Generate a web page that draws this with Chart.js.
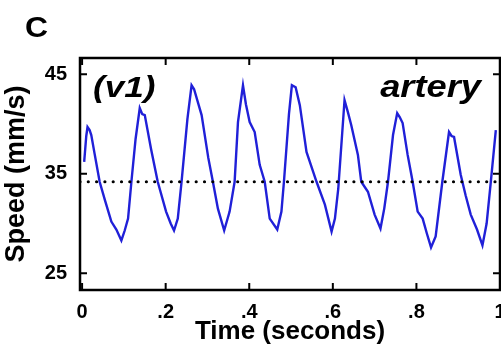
<!DOCTYPE html>
<html><head><meta charset="utf-8">
<script src="https://cdn.jsdelivr.net/npm/chart.js@4/dist/chart.umd.min.js"></script>
<style>html,body{margin:0;padding:0;background:#fff}canvas{display:block}</style>
</head><body>
<canvas id="c" width="501" height="357"></canvas>
<script>
// ---- data ----
const timeSec = [0.005,0.010,0.013,0.018,0.022,0.030,0.042,0.055,0.070,0.082,0.094,0.102,0.110,0.118,0.128,0.138,0.144,0.150,0.165,0.181,0.201,0.212,0.220,0.229,0.238,0.252,0.262,0.268,0.286,0.302,0.313,0.325,0.340,0.353,0.365,0.373,0.385,0.392,0.401,0.413,0.425,0.437,0.449,0.467,0.477,0.483,0.495,0.502,0.511,0.521,0.537,0.553,0.561,0.581,0.597,0.605,0.613,0.628,0.636,0.644,0.660,0.668,0.684,0.700,0.714,0.723,0.732,0.744,0.754,0.760,0.767,0.779,0.791,0.803,0.815,0.825,0.835,0.846,0.862,0.878,0.884,0.890,0.906,0.918,0.930,0.945,0.958,0.968,0.978,0.990];
const speed   = [36.2,38.8,39.7,39.4,38.9,37.0,34.2,32.3,30.2,29.4,28.3,29.3,30.5,34.2,38.5,41.6,41.0,40.9,37.5,34.2,31.2,30.0,29.3,30.5,34.2,40.5,43.9,43.5,40.9,36.6,34.2,31.5,29.3,31.2,34.2,40.2,43.9,42.0,40.2,39.2,35.9,34.2,30.5,29.4,31.2,34.2,41.0,43.9,43.7,41.9,37.2,35.2,34.2,31.9,29.2,30.5,33.5,42.4,41.2,39.9,36.9,34.2,33.2,30.9,29.5,31.5,34.2,38.9,41.1,40.7,40.1,36.9,34.2,31.2,30.5,29.0,27.6,28.7,34.2,39.2,38.8,38.7,34.9,32.8,30.9,29.4,27.8,30.0,34.2,39.4];
const meanTime  = [-0.005, 1.0];
const meanSpeed = [34.2, 34.2];
const xTicks = [0, 0.2, 0.4, 0.6, 0.8, 1];
const xTickLabels = ['0', '.2', '.4', '.6', '.8', '1'];
const yTicks = [25, 35, 45];
const yTickLabels = ['25', '35', '45'];
const panelLabel = 'C';
const cornerLeft = '(v1)';
const cornerRight = 'artery';
const xTitle = 'Time (seconds)';
const yTitle = 'Speed (mm/s)';

const FAM = '"Liberation Sans", Arial, Helvetica, sans-serif';
Chart.defaults.font.family = FAM;
Chart.defaults.color = '#000';

function stretchedText(ctx, txt, x, y, font, align, sx) {
  ctx.save();
  ctx.font = font;
  ctx.textBaseline = 'alphabetic';
  ctx.fillStyle = '#000';
  const w = ctx.measureText(txt).width * sx;
  const left = align === 'right' ? x - w : x;
  ctx.translate(left, y);
  ctx.scale(sx, 1);
  ctx.textAlign = 'left';
  ctx.fillText(txt, 0, 0);
  ctx.restore();
}

const framePlugin = {
  id: 'frame',
  afterDatasetsDraw(chart) {
    const {ctx, chartArea: a, scales: {x, y}} = chart;
    ctx.save();
    ctx.strokeStyle = '#000';
    ctx.lineWidth = 2.5;
    ctx.strokeRect(a.left, a.top, a.right - a.left, a.bottom - a.top);
    ctx.lineWidth = 2;
    ctx.beginPath();
    xTicks.forEach(v => {
      const px = x.getPixelForValue(v);
      ctx.moveTo(px, a.bottom); ctx.lineTo(px, a.bottom - 7);
      ctx.moveTo(px, a.top); ctx.lineTo(px, a.top + 7);
    });
    yTicks.forEach(v => {
      const py = y.getPixelForValue(v);
      ctx.moveTo(a.left, py); ctx.lineTo(a.left + 7, py);
      ctx.moveTo(a.right, py); ctx.lineTo(a.right - 7, py);
    });
    ctx.stroke();
    ctx.restore();
    stretchedText(ctx, cornerLeft, a.left + 13, a.top + 39, 'italic bold 30px ' + FAM, 'left', 1.17);
    stretchedText(ctx, cornerRight, a.right - 19, a.top + 39, 'italic bold 31px ' + FAM, 'right', 1.17);
    stretchedText(ctx, panelLabel, 25, 37, 'bold 29px ' + FAM, 'left', 1.1);
  }
};

new Chart(document.getElementById('c'), {
  type: 'line',
  data: {
    datasets: [
      {
        data: meanTime.map((t, i) => ({x: t, y: meanSpeed[i]})),
        borderColor: '#000',
        borderWidth: 3.2,
        borderDash: [0, 8.3],
        borderCapStyle: 'round',
        pointRadius: 0,
        fill: false,
        order: 0
      },
      {
        data: timeSec.map((t, i) => ({x: t, y: speed[i]})),
        borderColor: '#2020d8',
        borderWidth: 2.4,
        pointRadius: 0,
        tension: 0,
        fill: false,
        order: 1
      }
    ]
  },
  options: {
    responsive: false,
    devicePixelRatio: 1,
    animation: false,
    events: [],
    layout: {padding: {top: 58, right: 1, left: 0, bottom: 0}},
    plugins: {legend: {display: false}, tooltip: {enabled: false}},
    scales: {
      x: {
        type: 'linear',
        min: -0.005, max: 1,
        afterBuildTicks: s => { s.ticks = xTicks.map(v => ({value: v})); },
        afterFit: s => { s.height = 67; s.paddingLeft = 0; s.paddingRight = 0; },
        grid: {display: false, drawTicks: false},
        border: {display: false},
        ticks: {
          callback: (v, i) => xTickLabels[i],
          autoSkip: false, maxRotation: 0, padding: 10,
          font: {size: 20, weight: 'bold'}, color: '#000'
        },
        title: {display: true, text: xTitle, font: {size: 26, weight: 'bold'}, color: '#000', padding: {top: 0, bottom: 10}}
      },
      y: {
        type: 'linear',
        min: 23.32, max: 46.64,
        afterBuildTicks: s => { s.ticks = yTicks.map(v => ({value: v})); },
        afterFit: s => { s.width = 80; s.paddingTop = 0; s.paddingBottom = 0; },
        grid: {display: false, drawTicks: false},
        border: {display: false},
        ticks: {
          callback: (v, i) => yTickLabels[i],
          autoSkip: false, padding: 13,
          font: {size: 20, weight: 'bold'}, color: '#000'
        },
        title: {display: true, text: yTitle, font: {size: 27, weight: 'bold'}, color: '#000', padding: {top: 0, bottom: 0}}
      }
    }
  },
  plugins: [framePlugin]
});
</script>
</body></html>
